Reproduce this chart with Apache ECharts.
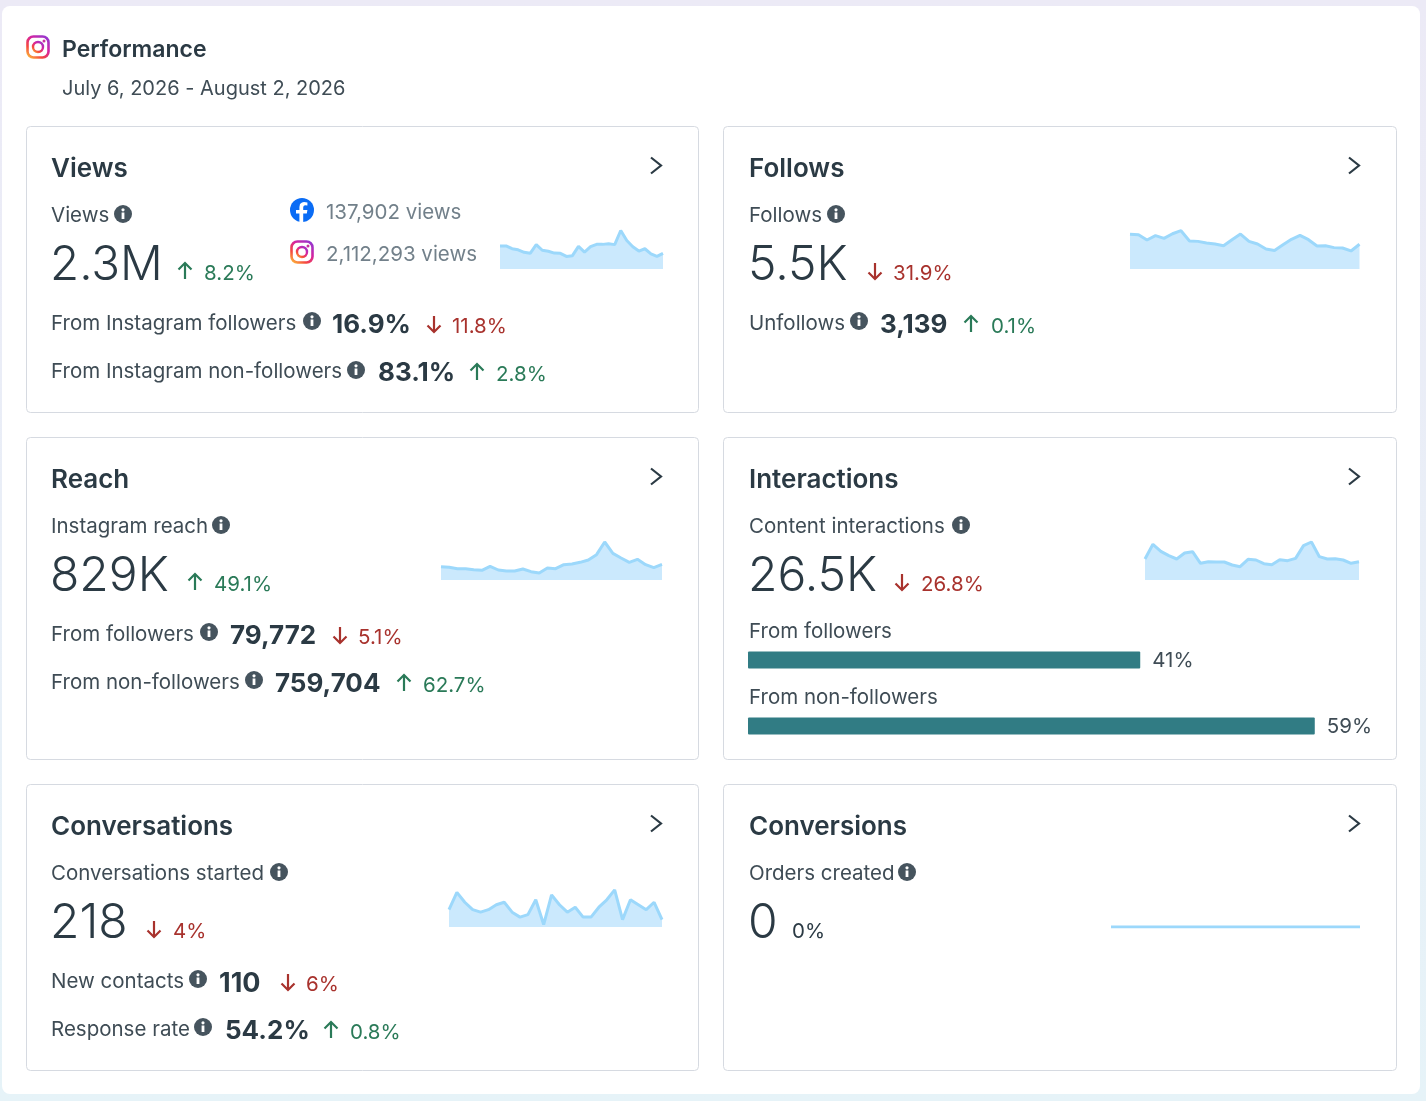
<!DOCTYPE html>
<html><head><meta charset="utf-8">
<style>html,body{margin:0;padding:0;background:#eaf1f7}#c{width:1426px;height:1101px}</style>
<script src="https://cdn.jsdelivr.net/npm/echarts@6/dist/echarts.min.js"></script>
</head><body><div id="c"></div>
<script>
// daily values read from the sparklines
const days = Array.from({length:28},(_,i)=>i+1);
const viewsDaily = [90,90,79,75,65,61,95,73,69,62,61,49,52,88,66,87,96,96,98,95,150,111,87,70,79,59,49,61];
const followsDaily = [250,247,209,240,221,254,276,202,199,187,180,168,211,252,199,180,144,134,175,214,242,211,166,168,154,151,130,178];
const reachDaily = [40,38,34,34,31,29,41,30,27,27,33,25,21,36,34,46,48,53,60,76,114,80,66,53,62,46,37,47];
const interactionsDaily = [882,1498,1204,1022,882,1134,1190,700,770,756,756,630,560,868,840,686,644,854,812,910,1442,1596,980,882,896,840,700,770];
const conversationsDaily = [7,14,10,7,6,7,9,10,6,4,5,11,1,13,9,6,8,4,4,8,11,15,3,11,9,7,10,3];
const ordersDaily = [0,0,0,0,0,0,0,0,0,0,0,0,0,0,0,0,0,0,0,0,0,0,0,0,0,0,0,0];
const audienceCategories = ['From followers','From non-followers'];
const audienceShare = [40.9,59.1];

const FONT='Inter, "Noto Sans", sans-serif';
const DARK='#2b3a44', MID='#3f4c55', GREY='#72808a', GREEN='#2a7a58', RED='#a8322d';
const g=[];
const T=(text,x,y,size,weight,fill)=>g.push({type:'text',z:6,x,y:y+1.5,style:{text,font:`${weight} ${size}px ${FONT}`,fill:fill||DARK,textVerticalAlign:'middle',textAlign:'left'}});
const card=(x1,y1,x2,y2)=>g.push({type:'rect',z:0,shape:{x:x1+.5,y:y1+.5,width:x2-x1-1,height:y2-y1,r:4},style:{fill:'#fff',stroke:'#d6dae1',lineWidth:1}});
const info=(cx,cy)=>{g.push({type:'circle',z:6,shape:{cx,cy,r:9},style:{fill:'#46545e'}});
 g.push({type:'rect',z:7,shape:{x:cx-1.4,y:cy-1.5,width:2.8,height:6.5},style:{fill:'#fff'}});
 g.push({type:'circle',z:7,shape:{cx,cy:cy-4.2,r:1.6},style:{fill:'#fff'}});};
const chev=(cx,cy)=>g.push({type:'polyline',z:6,shape:{points:[[cx-5,cy-8+.5],[cx+5,cy+.5],[cx-5,cy+8+.5]]},style:{stroke:DARK,lineWidth:2.2,fill:null}});
const arrow=(cx,cy,up)=>{const s=up?1:-1,c=up?GREEN:RED;
 g.push({type:'line',z:6,shape:{x1:cx,y1:cy-8*s,x2:cx,y2:cy+8*s},style:{stroke:c,lineWidth:2.2}});
 g.push({type:'polyline',z:6,shape:{points:[[cx-6.5,cy-1.5*s],[cx,cy-8*s],[cx+6.5,cy-1.5*s]]},style:{stroke:c,lineWidth:2.2,fill:null}});};
const ig=(cx,cy)=>{const grad=new echarts.graphic.LinearGradient(0.1,1,0.9,0,[{offset:0,color:'#fdc13a'},{offset:.3,color:'#f5483f'},{offset:.6,color:'#d6249f'},{offset:1,color:'#8a3ad8'}]);
 g.push({type:'rect',z:6,shape:{x:cx-10.5,y:cy-10.5,width:21,height:21,r:6},style:{fill:'#fff',stroke:grad,lineWidth:2.6}});
 g.push({type:'circle',z:6,shape:{cx,cy,r:5},style:{fill:'#fff',stroke:grad,lineWidth:2.4}});
 g.push({type:'circle',z:6,shape:{cx:cx+6,cy:cy-6,r:1.5},style:{fill:'#c9309f'}});};
const fb=(cx,cy)=>{g.push({type:'circle',z:6,shape:{cx,cy,r:12},style:{fill:'#0a6cf5'}});
 g.push({type:'polygon',z:7,shape:{points:[[-2.6,12],[-2.6,3.5],[-6,3.5],[-6,0],[-2.6,0],[-2.6,-3],[-2,-6],[0,-7.6],[2,-8],[5.4,-7.6],[5.4,-4.6],[3,-4.7],[1.6,-4],[1.2,-2.5],[1.2,0],[5.4,0],[4.8,3.5],[1.2,3.5],[1.2,12]].map(p=>[cx+p[0],cy+p[1]])},style:{fill:'#fff'}});};

// page panel
g.push({type:'rect',z:0,shape:{x:2,y:6,width:1418,height:1088,r:8},style:{fill:'#fff'}});
ig(38,47);
T('Performance',62,49,23,600);
T('July 6, 2026 - August 2, 2026',62,87,20,400,MID);
[[26,126,699,412],[723,126,1397,412],[26,437,699,759],[723,437,1397,759],[26,784,699,1070],[723,784,1397,1070]].forEach(c=>card(...c));
const S=20.5,B=48,Q=26;
// Views
T('Views',51,168,26,600); chev(656,165);
T('Views',51,214,S,400,MID); info(123,214);
T('2.3M',50,264,B-.5,300); arrow(185,271,true); T('8.2%',204,272,S,400,GREEN);
fb(302,210); T('137,902 views',326,211,S,400,GREY);
ig(302,252); T('2,112,293 views',326,253,S,400,GREY);
T('From Instagram followers',51,322,S,400,MID); info(312,321); T('16.9%',332,324,Q,700); arrow(434,324,false); T('11.8%',452,325,S,400,RED);
T('From Instagram non-followers',51,370,S,400,MID); info(356,370); T('83.1%',378,372,Q,700); arrow(477,372,true); T('2.8%',496,373,S,400,GREEN);
// Follows
T('Follows',749,168,26,600); chev(1354,165);
T('Follows',749,214,S,400,MID); info(836,214);
T('5.5K',748,264,B,300); arrow(875,271,false); T('31.9%',893,272,S,400,RED);
T('Unfollows',749,322,S,400,MID); info(859,321); T('3,139',880,324,Q,700); arrow(971,324,true); T('0.1%',991,325,S,400,GREEN);
// Reach
T('Reach',51,479,26,600); chev(656,476);
T('Instagram reach',51,525,S,400,MID); info(221,525);
T('829K',50,575,B,300); arrow(195,582,true); T('49.1%',214,583,S,400,GREEN);
T('From followers',51,633,S,400,MID); info(209,632); T('79,772',230,635,Q,700); arrow(340,635,false); T('5.1%',358,636,S,400,RED);
T('From non-followers',51,681,S,400,MID); info(254,680); T('759,704',275,683,Q,700); arrow(404,683,true); T('62.7%',423,684,S,400,GREEN);
// Interactions
T('Interactions',749,479,26,600); chev(1354,476);
T('Content interactions',749,525,S,400,MID); info(961,525);
T('26.5K',748,575,B,300); arrow(902,582,false); T('26.8%',921,583,S,400,RED);
T('From followers',749,630,S,400,MID);
T('From non-followers',749,696,S,400,MID);
// Conversations
T('Conversations',51,826,26,600); chev(656,823);
T('Conversations started',51,872,S,400,MID); info(279,872);
T('218',50,922,B,300); arrow(154,929,false); T('4%',173,930,S,400,RED);
T('New contacts',51,980,S,400,MID); info(198,979); T('110',219,982,Q+1,700); arrow(288,982,false); T('6%',306,983,S,400,RED);
T('Response rate',51,1028,S,400,MID); info(203,1027); T('54.2%',225,1030,Q,700); arrow(331,1030,true); T('0.8%',350,1031,S,400,GREEN);
// Conversions
T('Conversions',749,826,26,600); chev(1354,823);
T('Orders created',749,872,S,400,MID); info(907,872);
T('0',748,922,B,300); T('0%',792,930,S,400,DARK);

const sparks=[
 {d:viewsDaily,l:500,t:220,w:163,h:49,max:191},
 {d:followsDaily,l:1130,t:220,w:229.5,h:49,max:353},
 {d:reachDaily,l:441,t:530,w:221,h:50,max:150},
 {d:interactionsDaily,l:1145,t:530,w:214,h:50,max:2100},
 {d:conversationsDaily,l:449,t:880,w:213,h:47,max:19},
 {d:ordersDaily,l:1111,t:880,w:249,h:47,max:19}
];
const grid=[],xAxis=[],yAxis=[],series=[];
sparks.forEach((s,i)=>{
 grid.push({left:s.l,top:s.t,width:s.w,height:s.h});
 xAxis.push({type:'category',gridIndex:i,data:days,boundaryGap:false,show:false});
 yAxis.push({type:'value',gridIndex:i,min:0,max:s.max,show:false});
 series.push({type:'line',xAxisIndex:i,yAxisIndex:i,data:s.d,showSymbol:false,silent:true,animation:false,
  lineStyle:{color:'#9cd8fb',width:3},areaStyle:{color:'#cbe9fd',opacity:1}});
});
const bi=sparks.length;
grid.push({left:748,top:627,width:623.35,height:132});
xAxis.push({type:'value',gridIndex:bi,min:0,max:65,show:false});
yAxis.push({type:'category',gridIndex:bi,data:audienceCategories,inverse:true,show:false});
series.push({type:'bar',xAxisIndex:bi,yAxisIndex:bi,data:audienceShare,barWidth:17,animation:false,silent:true,
 itemStyle:{color:'#317c84',borderRadius:1},
 label:{show:true,position:'right',distance:12,offset:[0,1],formatter:p=>Math.round(p.value)+'%',fontFamily:FONT,fontSize:20.5,fontWeight:400,color:MID}});

const chart=echarts.init(document.getElementById('c'),null,{renderer:'canvas'});
chart.setOption({
 animation:false,
 backgroundColor:new echarts.graphic.LinearGradient(0,0,0,1,[{offset:0,color:'#eceaf6'},{offset:1,color:'#e6f3f8'}]),
 grid,xAxis,yAxis,series,graphic:{elements:g}
});
</script></body></html>
